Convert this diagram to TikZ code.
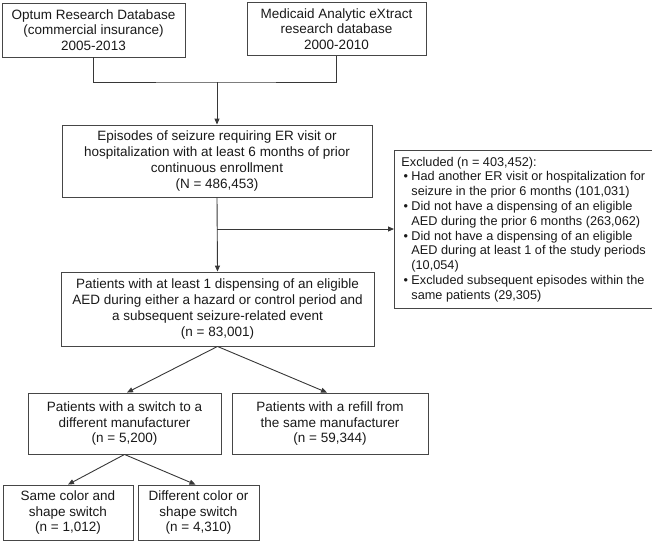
\documentclass[tikz,border=0pt]{standalone}
\usepackage{fontspec}
\setmainfont{Liberation Sans}
\usetikzlibrary{arrows.meta,calc}
\definecolor{linec}{RGB}{55,55,55}
\definecolor{boxc}{RGB}{70,70,70}
\definecolor{txtc}{RGB}{25,25,25}
\begin{document}
\begin{tikzpicture}[x=1pt,y=-1pt,
  every node/.style={font=\fontsize{13.5}{15.8}\selectfont, text=txtc},
  box/.style={draw=boxc, line width=0.9pt, rectangle, align=center, inner sep=2pt},
  conn/.style={draw=linec, line width=0.9pt},
  arr/.style={conn, -{Triangle[length=6pt,width=5pt]}}]
\useasboundingbox (0,0) rectangle (652,542);
\node[box, minimum width=183, minimum height=54] (A) at (93.5,30) {Optum Research Database\\(commercial insurance)\\2005-2013};
\node[box, minimum width=179, minimum height=53] (B) at (336.5,29) {Medicaid Analytic eXtract\\research database\\2000-2010};
\node[box, minimum width=310, minimum height=72] (C) at (217,161) {Episodes of seizure requiring ER visit or\\hospitalization with at least 6 months of prior\\continuous enrollment\\(N = 486,453)};
\node[box, anchor=north west, align=left, inner xsep=7pt, inner ysep=3pt, minimum height=158,
  font=\fontsize{12.7}{14.8}\selectfont] (X) at (394,150) {Excluded (n = 403,452):\\
\makebox[10pt][l]{\,•}Had another ER visit or hospitalization for\\
\hspace*{10pt}seizure in the prior 6 months (101,031)\\
\makebox[10pt][l]{\,•}Did not have a dispensing of an eligible\\
\hspace*{10pt}AED during the prior 6 months (263,062)\\
\makebox[10pt][l]{\,•}Did not have a dispensing of an eligible\\
\hspace*{10pt}AED during at least 1 of the study periods\\
\hspace*{10pt}(10,054)\\
\makebox[10pt][l]{\,•}Excluded subsequent episodes within the\\
\hspace*{10pt}same patients (29,305)};
\node[box, minimum width=313, minimum height=74] (D) at (217.5,309) {Patients with at least 1 dispensing of an eligible\\AED during either a hazard or control period and\\a subsequent seizure-related event\\(n = 83,001)};
\node[box, minimum width=193, minimum height=61] (E) at (124.5,423.5) {Patients with a switch to a\\different manufacturer\\(n = 5,200)};
\node[box, minimum width=196, minimum height=61] (F) at (330,423.5) {Patients with a refill from\\the same manufacturer\\(n = 59,344)};
\node[box, minimum width=130, minimum height=55] (G) at (68,512.5) {Same color and\\shape switch\\(n = 1,012)};
\node[box, minimum width=121, minimum height=55] (H) at (198.5,512.5) {Different color or\\shape switch\\(n = 4,310)};
\coordinate (j) at (217,82);
\coordinate (br) at (217,229);
\draw[conn] (A.south) |- (j) -| (B.south);
\draw[arr] (j) -- (C.north);
\draw[arr] (C.south) -- (D.north);
\draw[arr] (br) -- (br -| X.west);
\draw[arr] (D.south) -- ($(E.north)+(2.5,0)$);
\draw[arr] (D.south) -- ($(F.north)+(-3,0)$);
\draw[arr] (E.south) -- (G.north);
\draw[arr] (E.south) -- ($(H.north)+(-3,0)$);
\end{tikzpicture}
\end{document}
